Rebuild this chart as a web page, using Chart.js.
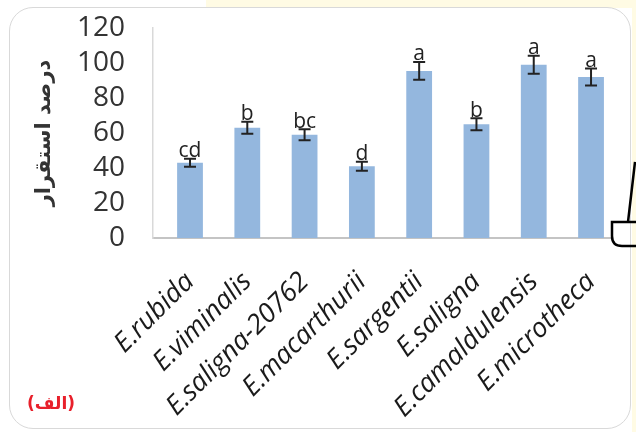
<!DOCTYPE html>
<html>
<head>
<meta charset="utf-8">
<script src="https://cdn.jsdelivr.net/npm/chart.js@4.4.1/dist/chart.umd.min.js"></script>
<style>
  body { margin: 0; background: #fff; }
  #page { position: relative; width: 636px; height: 432px; overflow: hidden; }
  .yellow-top { position: absolute; left: 206px; top: 0; right: 0; height: 8px; background: #fffbe4; }
  .yellow-right { position: absolute; right: 0; top: 0; width: 4px; height: 432px; background: #fffbe4; }
  .card { position: absolute; left: 9px; top: 7px; width: 622px; height: 422px; box-sizing: border-box;
          border: 1px solid #d9d9d9; border-radius: 24px; background: #fff; }
  #wrap { position: absolute; left: 0; top: 0; width: 636px; height: 432px; }
  .tag { position: absolute; left: 27px; top: 393px; color: #e8202b; font: bold 17px 'DejaVu Sans', sans-serif; }
  .marker { position: absolute; left: 0; top: 0; }
</style>
</head>
<body>
<div id="page">
  <div class="yellow-top"></div>
  <div class="yellow-right"></div>
  <div class="card"></div>
  <div id="wrap"><canvas id="establishChart"></canvas></div>
  <svg class="marker" width="636" height="432">
    <path d="M635 162 L628 222 M637 222 H612 V236 Q612 246 622 246 H637" fill="none" stroke="#000" stroke-width="2.5"/>
  </svg>
  <div class="tag">(الف)</div>
</div>
<script>
// species on the x axis
var species = ['E.rubida', 'E.viminalis', 'E.saligna-20762', 'E.macarthurii',
               'E.sargentii', 'E.saligna', 'E.camaldulensis', 'E.microtheca'];
// establishment percentage (mean) and error bar half-length
var establishment = [43, 63, 59, 41, 95.5, 65, 99, 92];
var errors = [2.3, 3.4, 3.1, 2.6, 5.1, 3.4, 5.1, 4.9];
// Duncan group letters
var letters = ['cd', 'b', 'bc', 'd', 'a', 'b', 'a', 'a'];
var yTicks = [0, 20, 40, 60, 80, 100, 120];

var errorBars = {
    id: 'errorBars',
    afterDatasetsDraw: function (chart) {
        var ctx = chart.ctx;
        var y = chart.scales.y;
        var meta = chart.getDatasetMeta(0);
        ctx.save();
        ctx.strokeStyle = '#222';
        ctx.fillStyle = '#222';
        ctx.lineWidth = 2;
        ctx.font = '21px "Open Sans", sans-serif';
        ctx.textAlign = 'center';
        ctx.textBaseline = 'bottom';
        meta.data.forEach(function (bar, i) {
            var top = y.getPixelForValue(establishment[i] + errors[i]);
            var bottom = y.getPixelForValue(establishment[i] - errors[i]);
            ctx.beginPath();
            ctx.moveTo(bar.x, top); ctx.lineTo(bar.x, bottom);
            ctx.moveTo(bar.x - 6, top); ctx.lineTo(bar.x + 6, top);
            ctx.moveTo(bar.x - 6, bottom); ctx.lineTo(bar.x + 6, bottom);
            ctx.stroke();
            ctx.fillText(letters[i], bar.x, top + 3);
        });
        ctx.restore();
    }
};

document.addEventListener('DOMContentLoaded', function () {
    var ctx = document.getElementById('establishChart').getContext('2d');
    new Chart(ctx, {
        type: 'bar',
        data: {
            datasets: [{
                data: establishment.map(function (v, i) { return { x: i, y: v }; }),
                backgroundColor: '#94b7de',
                categoryPercentage: 1,
                barPercentage: 0.45
            }]
        },
        options: {
            responsive: true,
            maintainAspectRatio: false,
            animation: false,
            layout: { padding: { left: 10, right: 24, top: 28, bottom: 4 } },
            plugins: { legend: { display: false }, tooltip: { enabled: false } },
            scales: {
                x: {
                    type: 'linear',
                    offset: false,
                    min: -0.646,
                    max: 7.366,
                    grid: { display: false, drawTicks: false, offset: false },
                    border: { color: '#c4c4c4', width: 2 },
                    afterBuildTicks: function (s) {
                        s.ticks = species.map(function (_, i) { return { value: i }; });
                    },
                    afterFit: function (s) {
                        s.height = 190;
                        s.paddingLeft = 0;
                        s.paddingRight = 0;
                    },
                    ticks: {
                        autoSkip: false,
                        minRotation: 45,
                        maxRotation: 45,
                        padding: 28,
                        color: '#1a1a1a',
                        font: { family: '"Open Sans", sans-serif', size: 27, style: 'italic' },
                        callback: function (v) { return species[v]; }
                    }
                },
                y: {
                    min: 0,
                    max: 120,
                    grid: { display: false, drawTicks: false },
                    border: { color: '#d9d9d9', width: 1.5 },
                    afterBuildTicks: function (s) {
                        s.ticks = yTicks.map(function (v) { return { value: v }; });
                    },
                    afterFit: function (s) {
                        s.width = 143;
                        s.paddingTop = 0;
                        s.paddingBottom = 0;
                    },
                    ticks: {
                        autoSkip: false,
                        padding: 28,
                        color: '#333',
                        font: { family: '"Open Sans", sans-serif', size: 28 }
                    },
                    title: {
                        display: true,
                        text: 'درصد استقرار',
                        color: '#333',
                        padding: { top: 22, bottom: 0 },
                        font: { family: '"DejaVu Sans", sans-serif', size: 21, weight: 'bold' }
                    }
                }
            }
        },
        plugins: [errorBars]
    });
});
</script>
</body>
</html>
